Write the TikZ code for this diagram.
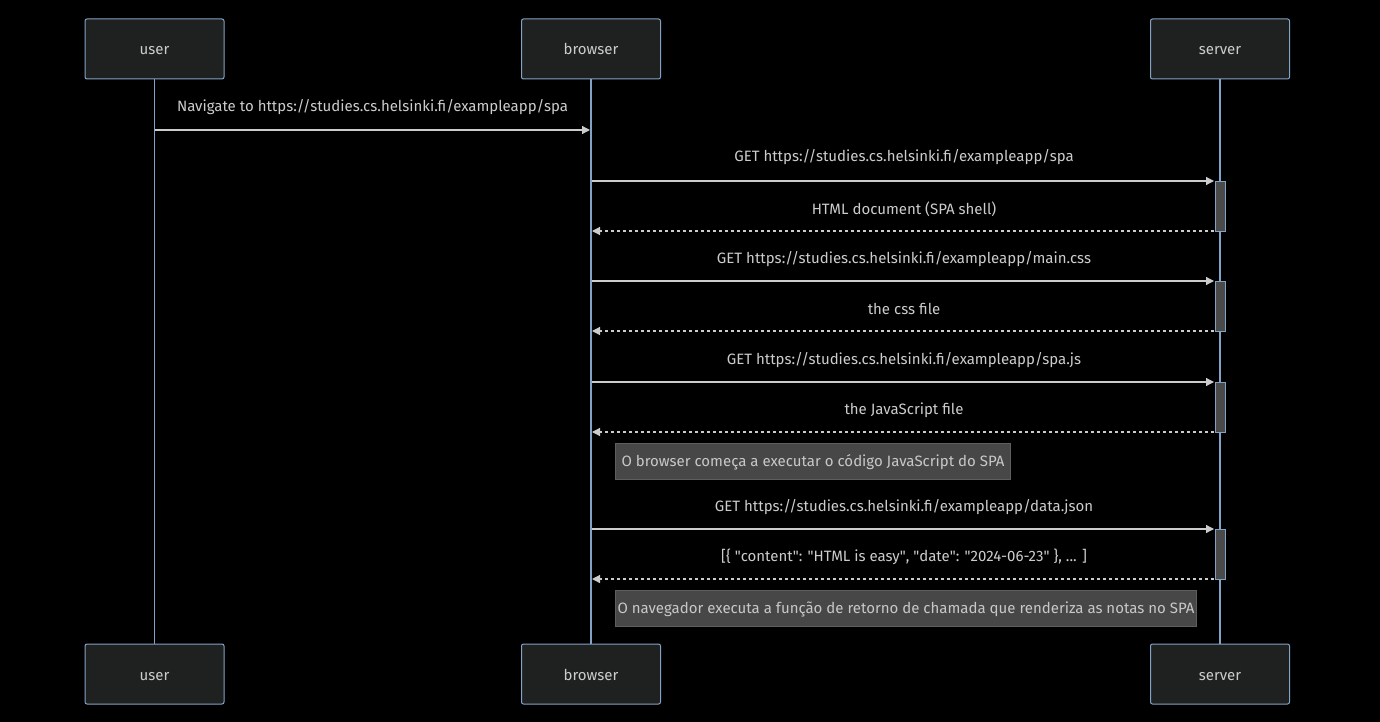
\documentclass[tikz,border=0pt]{standalone}
\usepackage{fontspec}
\setmainfont{Fira Sans}
\usetikzlibrary{arrows.meta}
\newcommand\dq{\XeTeXglyph\XeTeXcharglyph"22\relax}
\definecolor{bg}{HTML}{000000}
\definecolor{actfill}{HTML}{1F2020}
\definecolor{actline}{HTML}{81A3C6}
\definecolor{txt}{HTML}{CCCCCC}
\definecolor{msg}{HTML}{CCCCCC}
\definecolor{notefill}{HTML}{474747}
\definecolor{noteline}{HTML}{5E5E5E}
\definecolor{notetxt}{HTML}{C8C8C8}
\definecolor{activ}{HTML}{4A4A4A}
\tikzset{
  basefont/.style={font=\fontsize{15}{17}\selectfont},
  actor/.style={draw=actline, fill=actfill, line width=1pt, rounded corners=2pt, minimum width=139pt, minimum height=60pt, inner sep=0pt, text=txt, basefont, text height=14pt, text depth=2pt},
  lifeline/.style={draw=actline, line width=1.2pt},
  msgline/.style={draw=msg, line width=1.2pt, -{Triangle[length=8pt,width=8pt]}},
  retline/.style={msgline, dash pattern=on 3pt off 3pt},
  msglabel/.style={text=txt, basefont, inner sep=0pt, text height=12pt, text depth=2pt},
  notebox/.style={draw=noteline, fill=notefill, line width=1pt, text=notetxt, basefont, inner sep=0pt, anchor=west, text height=12pt, text depth=2pt},
  activbox/.style={draw=actline, fill=activ, line width=0.8pt},
}
\begin{document}
\begin{tikzpicture}[x=1pt,y=-1pt]
\useasboundingbox[fill=bg] (0,0) rectangle (1380,722);
% actors
\node[actor] (ut) at (154.5,49) {user};
\node[actor] (bt) at (591,49) {browser};
\node[actor] (st) at (1220,49) {server};
\node[actor] (ub) at (154.5,674) {user};
\node[actor] (bb) at (591,674) {browser};
\node[actor] (sb) at (1220,674) {server};
% lifelines
\draw[lifeline] (ut.south) -- (ub.north);
\draw[lifeline] (bt.south) -- (bb.north);
\draw[lifeline] (st.south) -- (sb.north);
% activation boxes
\foreach \a/\b in {181/231, 281/331, 382/432, 529/579}{
  \draw[activbox] (1215,\a) rectangle (1225,\b);
}
% coordinates
\coordinate (u1) at (155,130); \coordinate (b1) at (590,130);
\coordinate (b2) at (592,181); \coordinate (s2) at (1214,181);
\coordinate (s3) at (1214,231); \coordinate (b3) at (592,231);
\coordinate (b4) at (592,281); \coordinate (s4) at (1214,281);
\coordinate (s5) at (1214,331); \coordinate (b5) at (592,331);
\coordinate (b6) at (592,382); \coordinate (s6) at (1214,382);
\coordinate (s7) at (1214,432); \coordinate (b7) at (592,432);
\coordinate (b8) at (592,529); \coordinate (s8) at (1214,529);
\coordinate (s9) at (1214,579); \coordinate (b9) at (592,579);
% messages
\draw[msgline] (u1) -- (b1);
\node[msglabel] (l1) at (372.5,107) {Navigate to https://studies.cs.helsinki.fi/exampleapp/spa};
\draw[msgline] (b2) -- (s2);
\node[msglabel] (l2) at (904,157) {GET https://studies.cs.helsinki.fi/exampleapp/spa};
\draw[retline] (s3) -- (b3);
\node[msglabel] (l3) at (904,209) {HTML document (SPA shell)};
\draw[msgline] (b4) -- (s4);
\node[msglabel] (l4) at (904,258) {GET https://studies.cs.helsinki.fi/exampleapp/main.css};
\draw[retline] (s5) -- (b5);
\node[msglabel] (l5) at (904,309) {the css file};
\draw[msgline] (b6) -- (s6);
\node[msglabel] (l6) at (904,359) {GET https://studies.cs.helsinki.fi/exampleapp/spa.js};
\draw[retline] (s7) -- (b7);
\node[msglabel] (l7) at (904,409) {the JavaScript file};
\node[notebox, minimum width=395pt, minimum height=36pt] (n1) at (615,461) {O browser começa a executar o código JavaScript do SPA};
\draw[msgline] (b8) -- (s8);
\node[msglabel] (l8) at (904,506) {GET https://studies.cs.helsinki.fi/exampleapp/data.json};
\draw[retline] (s9) -- (b9);
\node[msglabel] (l9) at (904,556) {[\{ \dq content\dq: \dq HTML is easy\dq, \dq date\dq: \dq 2024-06-23\dq\ \}, ... ]};
\node[notebox, minimum width=581pt, minimum height=36pt] (n2) at (615,608) {O navegador executa a função de retorno de chamada que renderiza as notas no SPA};
\end{tikzpicture}
\end{document}
